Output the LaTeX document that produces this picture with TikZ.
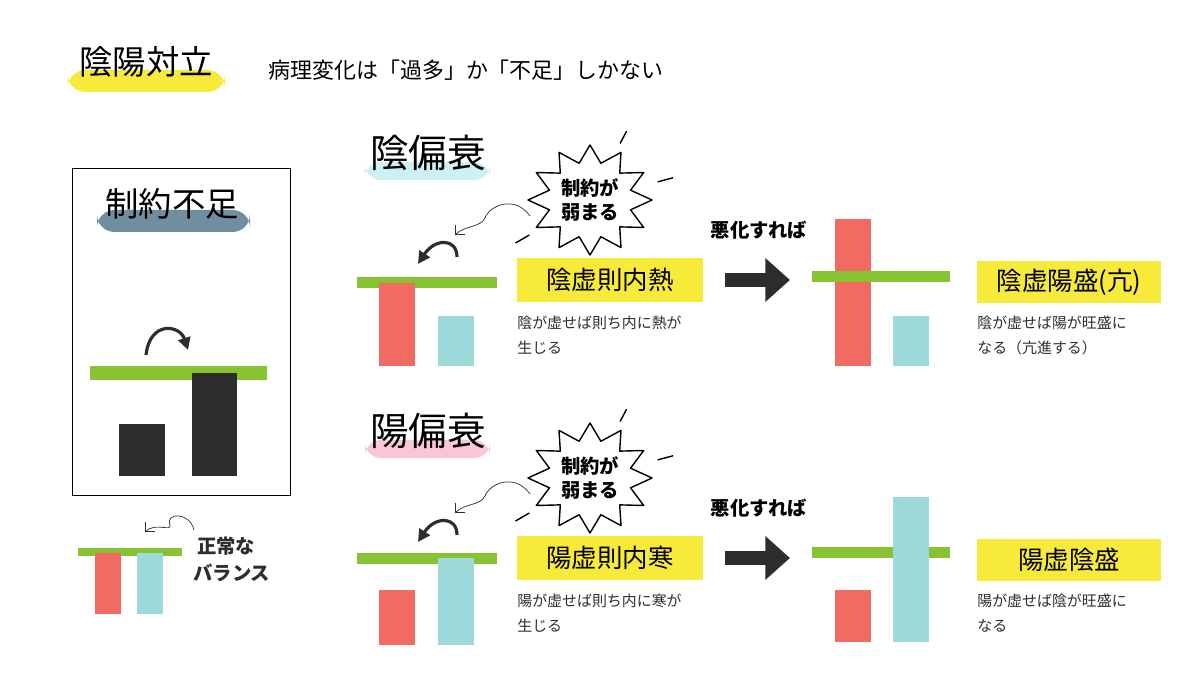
\documentclass[tikz,border=0pt]{standalone}
\usepackage{fontspec}
\setmainfont{Noto Sans CJK JP}
\usetikzlibrary{arrows.meta,calc}
\definecolor{barGreen}{HTML}{86C232}
\definecolor{barRed}{HTML}{F26B63}
\definecolor{barTeal}{HTML}{9CD9D8}
\definecolor{boxYellow}{HTML}{F8EA3A}
\definecolor{hlCyan}{HTML}{CFF0F0}
\definecolor{hlPink}{HTML}{F9C6D6}
\definecolor{hlBlue}{HTML}{6F8FA0}
\definecolor{darkBar}{HTML}{2D2D2D}
\tikzset{
  label/.style={inner sep=0pt, font=\fontsize{22}{26}\selectfont},
  desc/.style={inner sep=0pt, anchor=north west, align=left, font=\fontsize{8.5}{14}\selectfont, text=darkBar},
  yellowbox/.style={fill=boxYellow, inner sep=0pt, font=\fontsize{14.5}{16}\selectfont},
  bigarrow/.style={-{Triangle[length=14pt,width=24pt]}, line width=8pt, darkBar},
  curl/.style={-{Straight Barb[length=4pt]}, thin, darkBar},
  thickcurl/.style={-{Triangle[length=7pt,width=7pt]}, line width=1.8pt, darkBar}
}
\newcommand{\burst}[2]{%
  \coordinate (#2c) at (#1);
  \draw[fill=white, thick, line join=round] ($(#2c)+(0:62 and 55)$)
    \foreach \a in {0,30,...,330} { -- ($(#2c)+(\a+15:42 and 38)$) -- ($(#2c)+(\a+30:62 and 55)$) } -- cycle;
  \node[align=center, font=\fontsize{11}{14}\selectfont\bfseries] (#2) at (#2c) {制約が\\弱まる};
  \draw[thick] ($(#2c)+(118:70)$) -- ($(#2c)+(118:86)$);
  \draw[thick] ($(#2c)+(150:70)$) -- ($(#2c)+(150:86)$);
  \draw[thick] ($(#2c)+(-15:70)$) -- ($(#2c)+(-15:86)$);
  \draw[thick] ($(#2c)+(-62:64)$) -- ($(#2c)+(-62:78)$);
}
\begin{document}
\begin{tikzpicture}[x=0.02cm, y=-0.02cm]
\useasboundingbox (0,0) rectangle (1200,675);

% Title
\fill[boxYellow, rounded corners=10] (68,70) rectangle (225,92);
\node[label, font=\fontsize{19}{22}\selectfont] (title) at (146,62) {陰陽対立};
\node[inner sep=0pt, anchor=west, font=\fontsize{12.5}{15}\selectfont] (subtitle) at (268,70) {病理変化は「過多」か「不足」しかない};

% Left panel
\draw[thin] (72,168) rectangle (290,495);
\fill[hlBlue, rounded corners=10] (97,210) rectangle (250,232);
\node[label, font=\fontsize{19}{22}\selectfont] (lack) at (172,204) {制約不足};
\fill[barGreen] (90,366) rectangle (267,380);
\fill[darkBar] (119,424) rectangle (165,476);
\fill[darkBar] (192,373) rectangle (237,476);
\coordinate (lackS) at (146,355);
\coordinate (lackE) at (188,350);
\draw[thickcurl] (lackS) .. controls (150,320) and (180,325) .. (lackE);

% Normal balance
\fill[barGreen] (78,548) rectangle (182,556);
\fill[barRed] (95,553) rectangle (121,614);
\fill[barTeal] (137,553) rectangle (163,614);
\coordinate (normS) at (194,530);
\coordinate (normE) at (145,532);
\draw[curl] (normS) .. controls (190,512) and (165,512) .. (170,525) .. controls (172,532) and (155,522) .. (normE);
\node[desc, font=\fontsize{11}{15}\selectfont\bfseries] (normal) at (193,537) {\hspace*{0.2em}正常な\\バランス};

% Rows
\foreach \dy/\head/\hl/\name/\dsc/\worse/\wdsc/\ra/\rb/\rc/\rd/\gy/\wgy/\wra/\wrb/\wta/\wtb in {
  0/陰偏衰/hlCyan/陰虚則内熱/{陰が虚せば則ち内に熱が\\生じる}/陰虚陽盛(亢)/{陰が虚せば陽が旺盛に\\なる（亢進する）}/283/366/316/366/277/271/219/366/316/366,
  278/陽偏衰/hlPink/陽虚則内寒/{陽が虚せば則ち内に寒が\\生じる}/陽虚陰盛/{陽が虚せば陰が旺盛に\\なる}/312/367/280/367/275/269/312/364/219/364} {
  \begin{scope}[yshift=-\dy*0.02cm]
    \fill[\hl, rounded corners=9] (365,162) rectangle (490,180);
    \node[label] (head) at (428,153) {\head};
    \burst{590,200}{burst}
    \coordinate (curlS) at (530,216);
    \coordinate (curlE) at (455,235);
    \draw[curl] (curlS) .. controls (515,195) and (490,205) .. (485,218) .. controls (480,228) and (465,225) .. (curlE);
    \coordinate (thkS) at (457,257);
    \coordinate (thkE) at (418,264);
    \draw[thickcurl] (thkS) .. controls (457,238) and (435,238) .. (thkE);
    \fill[barGreen] (357,\gy) rectangle (497,\gy+11);
    \fill[barRed] (379,\ra) rectangle (415,\rb);
    \fill[barTeal] (438,\rc) rectangle (474,\rd);
    \node[yellowbox, minimum width=3.72cm, minimum height=0.88cm] (cause) at (610,280) {\name};
    \node[desc] (causeTxt) at (517,316) {\dsc};
    \node[inner sep=0pt, font=\fontsize{11}{13}\selectfont\bfseries] (worse) at (759,230) {悪化すれば};
    \coordinate (arrS) at (725,280);
    \coordinate (arrE) at (790,280);
    \draw[bigarrow] (arrS) -- (arrE);
    \fill[barRed] (835,\wra) rectangle (871,\wrb);
    \fill[barGreen] (812,\wgy) rectangle (950,\wgy+11);
    \fill[barTeal] (893,\wta) rectangle (929,\wtb);
    \node[yellowbox, minimum width=3.7cm, minimum height=0.84cm] (result) at (1069,282) {\worse};
    \node[desc] (resultTxt) at (977,316) {\wdsc};
  \end{scope}
}
\end{tikzpicture}
\end{document}
